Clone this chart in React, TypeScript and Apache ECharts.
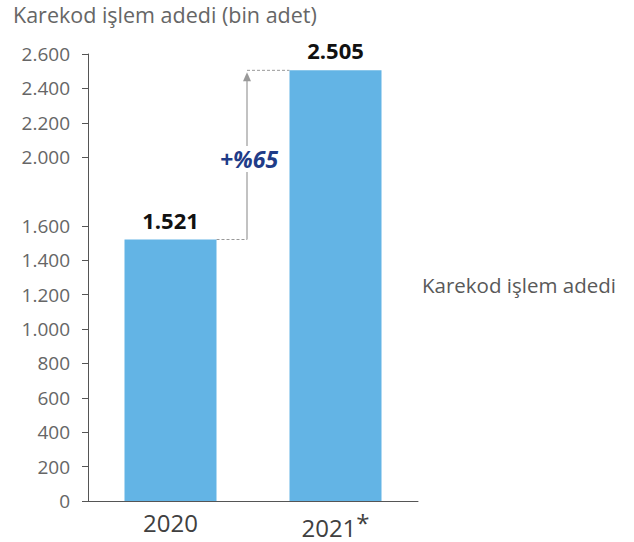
import React, { useEffect, useRef } from "react";
import * as echarts from "echarts";

// Yearly QR-code transaction counts (thousands)
const categories = ["2020", "2021*"];
const values = [1521, 2505];
const yTicks = [0, 200, 400, 600, 800, 1000, 1200, 1400, 1600, 2000, 2200, 2400, 2600];
const yMax = 2600;
const growthLabel = "+%65";
const seriesName = "Karekod işlem adedi";
const titleText = "Karekod işlem adedi (bin adet)";

const fmt = (v: number) => String(v).replace(/\B(?=(\d{3})+(?!\d))/g, ".");

const FONT = "'Open Sans', 'Noto Sans', sans-serif";
const BAR_W = 92;

export default function App() {
  const ref = useRef<HTMLDivElement>(null);

  useEffect(() => {
    if (!ref.current) return;
    const chart = echarts.init(ref.current, undefined, { renderer: "svg" });
    chart.setOption({
      animation: false,
      textStyle: { fontFamily: FONT },
      title: {
        text: titleText,
        left: 8,
        top: -2,
        textStyle: { fontSize: 21.5, fontWeight: "normal", color: "#666", fontFamily: FONT },
      },
      legend: {
        data: [seriesName],
        icon: "none",
        itemWidth: 0,
        left: 412,
        top: 269,
        selectedMode: false,
        textStyle: { fontSize: 20.5, color: "#595959", fontFamily: FONT },
      },
      grid: { left: 88, right: 216, top: 54, bottom: 41 },
      xAxis: {
        type: "category",
        data: categories,
        axisLine: { lineStyle: { color: "#555", width: 1 } },
        axisTick: { length: 6, lineStyle: { color: "#555" } },
        axisLabel: {
          fontSize: 24,
          color: "#404040",
          margin: 9,
          fontFamily: FONT,
          formatter: (v: string) => (v.endsWith("*") ? v.slice(0, -1) + "{s|*}" : v),
          rich: {
            s: { fontSize: 24, color: "#404040", verticalAlign: "top", padding: [0, 0, 10, 0], fontFamily: FONT },
          },
        },
      },
      yAxis: {
        type: "value",
        min: 0,
        max: yMax,
        splitLine: { show: false },
        axisLine: { show: true, lineStyle: { color: "#555", width: 1 } },
        axisTick: { show: true, length: 6, lineStyle: { color: "#555" }, customValues: yTicks },
        axisLabel: {
          customValues: yTicks,
          formatter: (v: number) => fmt(v),
          fontSize: 19,
          color: "#666",
          margin: 18,
          fontFamily: FONT,
        },
      },
      series: [
        {
          type: "bar",
          name: seriesName,
          data: values,
          barWidth: BAR_W,
          itemStyle: { color: "#63B4E5" },
          label: {
            show: true,
            position: "top",
            distance: 9,
            formatter: (p: any) => fmt(p.value),
            fontSize: 22,
            fontWeight: "bold",
            color: "#111",
            fontFamily: FONT,
          },
        },
      ],
    });

    // Growth arrow between the two bar tops, placed via the axis scales
    const p0 = chart.convertToPixel({ gridIndex: 0 }, [0, values[0]]) as number[];
    const p1 = chart.convertToPixel({ gridIndex: 0 }, [1, values[1]]) as number[];
    const half = BAR_W / 2;
    const xA = (p0[0] + p1[0]) / 2 - 6;
    const midY = (p0[1] + p1[1]) / 2 + 4;
    const dash = { stroke: "#999", lineWidth: 1, lineDash: [3, 2] };
    const solid = { stroke: "#999", lineWidth: 1.2 };
    chart.setOption({
      graphic: [
        { type: "line", shape: { x1: p0[0] + half, y1: p0[1], x2: xA, y2: p0[1] }, style: dash },
        { type: "line", shape: { x1: xA, y1: p1[1], x2: p1[0] - half, y2: p1[1] }, style: dash },
        { type: "line", shape: { x1: xA, y1: p0[1], x2: xA, y2: midY + 13 }, style: solid },
        { type: "line", shape: { x1: xA, y1: midY - 13, x2: xA, y2: p1[1] + 9 }, style: solid },
        {
          type: "polygon",
          shape: { points: [[xA - 4, p1[1] + 11], [xA + 4, p1[1] + 11], [xA, p1[1] + 2]] },
          style: { fill: "#999" },
        },
        {
          type: "text",
          x: xA + 2,
          y: midY,
          style: {
            text: growthLabel,
            fontSize: 23,
            fontWeight: "bold",
            fontStyle: "italic",
            fill: "#1F3C88",
            fontFamily: FONT,
            align: "center",
            verticalAlign: "middle",
          },
        },
      ],
    });

    return () => chart.dispose();
  }, []);

  return (
    <div
      ref={ref}
      style={{ position: "fixed", left: 0, top: 0, width: 634, height: 542, background: "#fff" }}
    />
  );
}
